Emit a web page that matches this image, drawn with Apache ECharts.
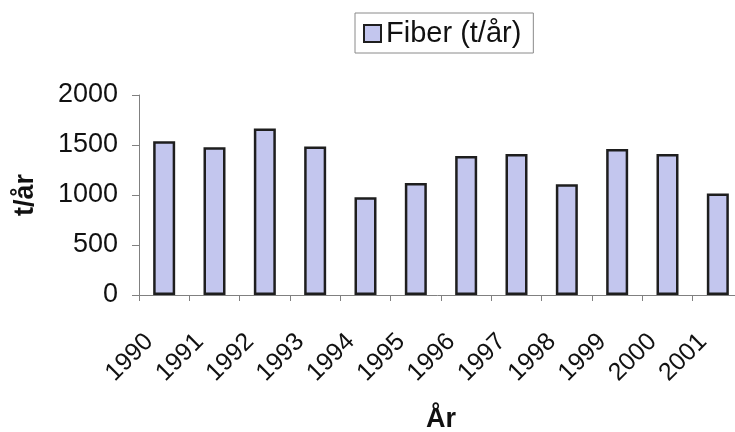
<!DOCTYPE html>
<html>
<head>
<meta charset="utf-8">
<script src="https://cdn.jsdelivr.net/npm/echarts@6/dist/echarts.min.js"></script>
<style>
html,body{margin:0;padding:0;background:#fff;}
#c{width:735px;height:432px;}
</style>
</head>
<body>
<div id="c"></div>
<script>
const categories = ['1990','1991','1992','1993','1994','1995','1996','1997','1998','1999','2000','2001'];
const fiberValues = [1538, 1477, 1665, 1484, 978, 1119, 1390, 1410, 1108, 1460, 1410, 1015];
const seriesName = 'Fiber (t/år)';
const yTicks = {min: 0, max: 2000, interval: 500};

const chart = echarts.init(document.getElementById('c'), null, {renderer: 'canvas'});
const font = '"Liberation Sans", Arial, sans-serif';
chart.setOption({
  animation: false,
  backgroundColor: '#ffffff',
  textStyle: {fontFamily: font},
  legend: {
    data: [seriesName],
    left: 355,
    top: 13,
    padding: [6, 12, 5, 8],
    borderColor: '#8a8a8a',
    borderWidth: 1,
    icon: 'rect',
    itemWidth: 17,
    itemHeight: 17,
    itemGap: 4,
    itemStyle: {borderColor: '#1e1e1e', borderWidth: 2},
    textStyle: {fontSize: 29, color: '#111', fontFamily: font},
    selectedMode: false
  },
  grid: {left: 139, top: 95, width: 604, height: 200, outerBoundsMode: 'none', containLabel: false},
  xAxis: {
    type: 'category',
    data: categories,
    name: 'År',
    nameLocation: 'middle',
    nameGap: 111,
    nameTextStyle: {fontSize: 27, fontWeight: 'bold', color: '#111', fontFamily: font},
    axisLine: {lineStyle: {color: '#808080', width: 1}},
    axisTick: {show: true, alignWithLabel: false, length: 6, lineStyle: {color: '#808080'}},
    axisLabel: {rotate: 45, fontSize: 25, color: '#111', margin: 28, padding: [0, 21, 0, 0], interval: 0, fontFamily: font}
  },
  yAxis: {
    type: 'value',
    min: yTicks.min,
    max: yTicks.max,
    interval: yTicks.interval,
    name: 't/år',
    nameLocation: 'middle',
    nameGap: 100,
    nameTextStyle: {fontSize: 27, fontWeight: 'bold', color: '#111', fontFamily: font},
    axisLine: {show: true, lineStyle: {color: '#808080', width: 1}},
    axisTick: {show: true, length: 7, lineStyle: {color: '#808080'}},
    splitLine: {show: false},
    axisLabel: {fontSize: 27, color: '#111', margin: 21, fontFamily: font, formatter: v => String(v)}
  },
  series: [{
    name: seriesName,
    type: 'bar',
    data: fiberValues,
    barWidth: 22,
    itemStyle: {color: '#c3c6ee', borderColor: '#1e1e1e', borderWidth: 2.5}
  }]
});
</script>
</body>
</html>
